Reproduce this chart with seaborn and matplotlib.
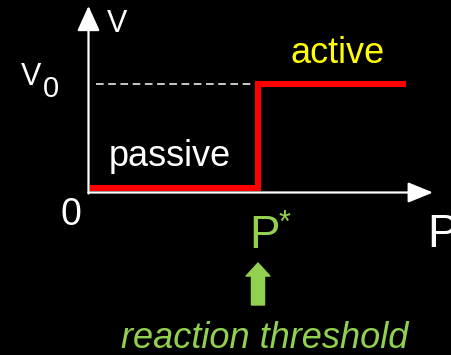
import matplotlib
matplotlib.use("Agg")
import matplotlib.pyplot as plt
import seaborn as sns
import pandas as pd

# data
P_values = [0.0, 1.0, 1.0, 1.88]   # P (P* = 1)
v_values = [0.0, 0.0, 1.0, 1.0]    # velocity (v0 = 1)
P_star = 1.0
v0 = 1.0
label_passive = "passive"
label_active = "active"
label_threshold = "reaction threshold"

sns.set_theme(style="white")
plt.rcParams['font.family'] = ['Liberation Sans', 'DejaVu Sans']

W, H = 452, 355
fig = plt.figure(figsize=(W / 100, H / 100), dpi=100, facecolor="black")
ax = fig.add_axes([0, 0, 1, 1])
ax.set_facecolor("black")
ax.set_axis_off()

sx, sy = 168.0, 104.0   # px per unit
ox, oy = 90.0, 188.0    # px of origin
ax.set_xlim(-ox / sx, (W - ox) / sx)
ax.set_ylim(-(H - oy) / sy, oy / sy)

def fx(px):
    return (px - ox) / sx

def fy(py):
    return (oy - py) / sy

white = "white"
red = "#ff0000"
yellow = "#ffff00"
green = "#92d050"
fw = "normal"

# axes arrows
ax.annotate("", xy=(fx(433), fy(192.5)), xytext=(fx(88.5), fy(192.5)),
            arrowprops=dict(arrowstyle="-|>,head_length=1.1,head_width=0.45",
                            color=white, lw=1.6, shrinkA=0, shrinkB=0, mutation_scale=14))
ax.annotate("", xy=(fx(88.5), fy(6)), xytext=(fx(88.5), fy(193.5)),
            arrowprops=dict(arrowstyle="-|>,head_length=1.1,head_width=0.5",
                            color=white, lw=1.6, shrinkA=0, shrinkB=0, mutation_scale=14))

# dashed v0 line
ax.plot([fx(96), P_star], [v0, v0], color=white, lw=1.1, dashes=(5, 3))

# red step curve
df = pd.DataFrame({"P": P_values, "v": v_values})
sns.lineplot(data=df, x="P", y="v", estimator=None, sort=False, color=red,
             lw=4.4, ax=ax, solid_joinstyle="miter", solid_capstyle="butt")

# texts
ax.text(fx(107), fy(32), "V", color=white, fontsize=22, fontweight=fw,
        ha="left", va="baseline")
ax.text(fx(21), fy(85), "V", color=white, fontsize=22, fontweight=fw,
        ha="left", va="baseline")
ax.text(fx(43), fy(97), "0", color=white, fontsize=21, fontweight=fw,
        ha="left", va="baseline")
ax.text(fx(61), fy(225), "0", color=white, fontsize=27, fontweight=fw,
        ha="left", va="baseline")
ax.text(fx(427), fy(247), "P", color=white, fontsize=33, fontweight=fw,
        ha="left", va="baseline")
ax.text(fx(249), fy(248), "P", color=green, fontsize=33, fontweight=fw,
        ha="left", va="baseline")
ax.text(fx(279), fy(232), "*", color=green, fontsize=22, fontweight=fw,
        ha="left", va="baseline")
ax.text(fx(109), fy(166), label_passive, color=white, fontsize=26, fontweight=fw,
        ha="left", va="baseline")
ax.text(fx(291), fy(63), label_active, color=yellow, fontsize=26, fontweight=fw,
        ha="left", va="baseline")
ax.text(fx(265), fy(348), label_threshold, color=green, fontsize=26, fontweight=fw,
        style="italic", ha="center", va="baseline")

# green arrow
ax.annotate("", xy=(P_star, fy(263)), xytext=(P_star, fy(305)),
            arrowprops=dict(arrowstyle="simple,head_length=0.47,head_width=0.86,tail_width=0.47",
                            color=green, shrinkA=0, shrinkB=0, mutation_scale=20))

fig.savefig("out.png", dpi=100, facecolor="black")
